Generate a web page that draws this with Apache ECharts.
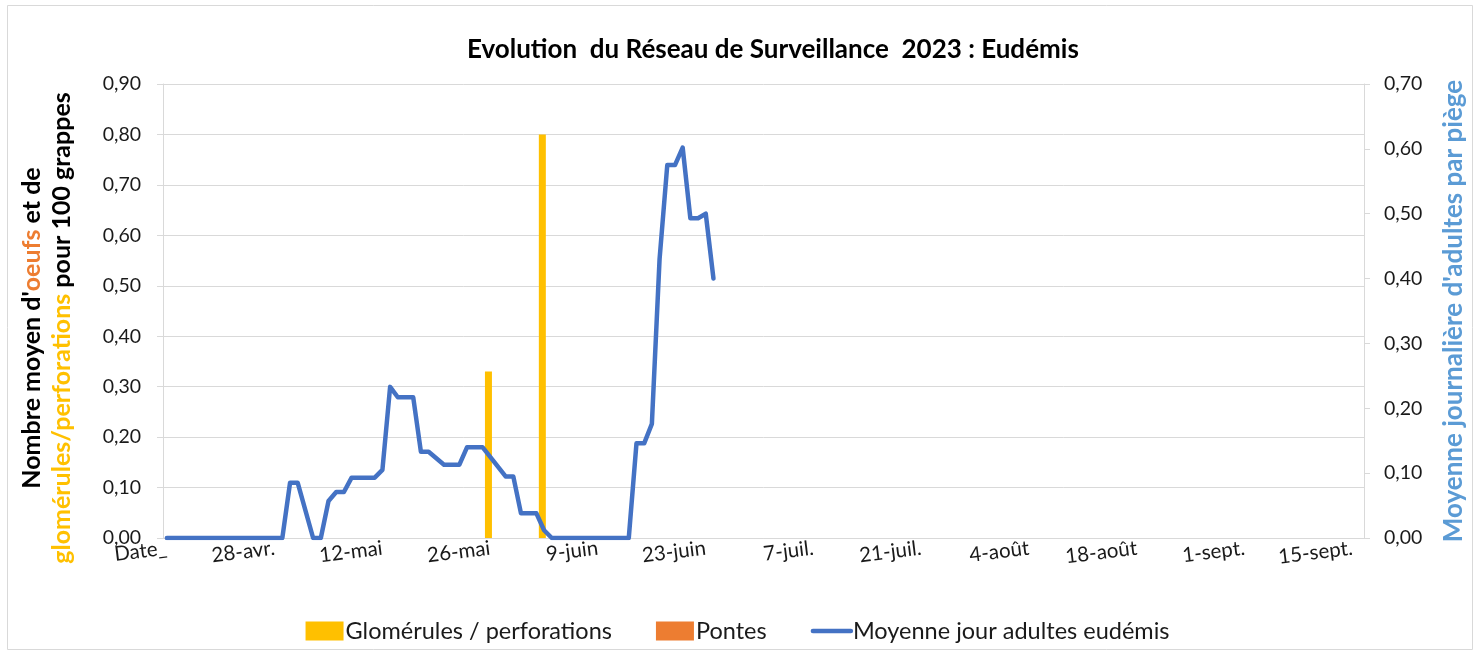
<!DOCTYPE html>
<html>
<head>
<meta charset="utf-8">
<script src="https://cdn.jsdelivr.net/npm/echarts@6/dist/echarts.min.js"></script>
<style>
html, body { margin: 0; padding: 0; background: #fff; }
#main { width: 1475px; height: 654px; }
</style>
</head>
<body>
<div id="main"></div>
<script>
// axe des dates : un jour par catégorie, la première porte l'entête "Date_"
var moisFr = ['janv.', 'févr.', 'mars', 'avr.', 'mai', 'juin', 'juil.', 'août', 'sept.', 'oct.', 'nov.', 'déc.'];
var nbJours = 156;
var jours = ['Date_'];
for (var i = 1; i < nbJours; i++) {
  var d = new Date(Date.UTC(2023, 3, 14 + i));
  jours.push(d.getUTCDate() + '-' + moisFr[d.getUTCMonth()]);
}

// glomérules / perforations (axe gauche)
var glomDates = ['26-mai', '2-juin'];
var glomValeurs = [0.33, 0.80];

// pontes (axe gauche) : aucune valeur
var pontesDates = [];
var pontesValeurs = [];

// moyenne jour adultes eudémis (axe droit)
var adultesDates = ['Date_', '29-avr.', '30-avr.', '1-mai', '3-mai', '4-mai', '5-mai', '6-mai', '7-mai', '8-mai',
  '11-mai', '12-mai', '13-mai', '14-mai', '16-mai', '17-mai', '18-mai', '20-mai', '22-mai', '23-mai',
  '25-mai', '28-mai', '29-mai', '30-mai', '1-juin', '2-juin', '3-juin', '13-juin', '14-juin', '15-juin',
  '16-juin', '17-juin', '18-juin', '19-juin', '20-juin', '21-juin', '22-juin', '23-juin', '24-juin'];
var adultesValeurs = [0, 0, 0.085, 0.085, 0, 0, 0.057, 0.071, 0.071, 0.093,
  0.093, 0.105, 0.233, 0.217, 0.217, 0.133, 0.133, 0.113, 0.113, 0.14,
  0.14, 0.095, 0.095, 0.038, 0.038, 0.012, 0, 0, 0.146, 0.146,
  0.176, 0.43, 0.575, 0.575, 0.602, 0.493, 0.493, 0.50, 0.40];

function paires(dates, valeurs) {
  return dates.map(function (d, k) { return [d, valeurs[k]]; });
}
function virgule(v) {
  return v.toFixed(2).replace('.', ',');
}

var police = 'Lato, "Open Sans", sans-serif';
var myChart = echarts.init(document.getElementById('main'));

var options = {
  backgroundColor: '#fff',
  textStyle: { fontFamily: police },
  title: {
    text: 'Evolution  du Réseau de Surveillance  2023 : Eudémis',
    left: 462,
    top: 32,
    textStyle: { fontSize: 26, fontWeight: 'bold', color: '#000', fontFamily: police }
  },
  legend: {
    top: 614,
    left: 'center',
    itemWidth: 38,
    itemHeight: 19,
    itemGap: 44,
    textStyle: { fontSize: 23.5, color: '#1a1a1a', fontFamily: police, padding: [0, 0, 0, -3] },
    data: [
      { name: 'Glomérules / perforations', icon: 'rect' },
      { name: 'Pontes', icon: 'rect' },
      { name: 'Moyenne jour adultes eudémis', itemStyle: { opacity: 0 }, lineStyle: { width: 4.5, color: '#4472c4', cap: 'round' } }
    ]
  },
  grid: { left: 163, right: 103, top: 84, bottom: 116 },
  xAxis: {
    type: 'category',
    data: jours,
    boundaryGap: true,
    axisLine: { lineStyle: { color: '#d9d9d9', width: 1 } },
    axisTick: { interval: 13, length: 6, lineStyle: { color: '#d9d9d9' } },
    axisLabel: { interval: 13, rotate: 7, margin: 10, fontSize: 20.5, color: '#1a1a1a', fontFamily: police }
  },
  yAxis: [
    {
      type: 'value',
      min: 0,
      max: 0.9,
      interval: 0.1,
      name: "{k|Nombre moyen d'}{o|oeufs}{k| et de}\n{y|glomérules/perforations}{k| pour 100 grappes}",
      nameLocation: 'middle',
      nameRotate: 90,
      nameGap: 86,
      nameTextStyle: {
        fontSize: 25,
        fontWeight: 'bold',
        lineHeight: 30,
        padding: [0, 34, 0, 0],
        rich: {
          k: { color: '#000', fontSize: 25, fontWeight: 'bold', fontFamily: police, lineHeight: 30 },
          o: { color: '#ed7d31', fontSize: 25, fontWeight: 'bold', fontFamily: police, lineHeight: 30 },
          y: { color: '#ffc000', fontSize: 25, fontWeight: 'bold', fontFamily: police, lineHeight: 30 }
        }
      },
      axisLine: { show: true, lineStyle: { color: '#d9d9d9' } },
      axisTick: { show: true, length: 6, lineStyle: { color: '#d9d9d9' } },
      axisLabel: { margin: 22, fontSize: 19.5, color: '#1a1a1a', fontFamily: police, formatter: virgule },
      splitLine: { lineStyle: { color: '#d9d9d9' } }
    },
    {
      type: 'value',
      min: 0,
      max: 0.7,
      interval: 0.1,
      position: 'right',
      name: "Moyenne journalière d'adultes par piège",
      nameLocation: 'middle',
      nameRotate: 90,
      nameGap: 77,
      nameTextStyle: { fontSize: 26, fontWeight: 'bold', color: '#5b9bd5', fontFamily: police },
      axisLine: { show: true, lineStyle: { color: '#d9d9d9' } },
      axisTick: { show: true, length: 6, lineStyle: { color: '#d9d9d9' } },
      axisLabel: { margin: 20, fontSize: 19.5, color: '#1a1a1a', fontFamily: police, formatter: virgule },
      splitLine: { show: false }
    }
  ],
  series: [
    {
      name: 'Glomérules / perforations',
      type: 'bar',
      yAxisIndex: 0,
      barWidth: 7,
      barGap: '-50%',
      itemStyle: { color: '#ffc000' },
      data: paires(glomDates, glomValeurs)
    },
    {
      name: 'Pontes',
      type: 'bar',
      yAxisIndex: 0,
      barWidth: 7,
      itemStyle: { color: '#ed7d31' },
      data: paires(pontesDates, pontesValeurs)
    },
    {
      name: 'Moyenne jour adultes eudémis',
      type: 'line',
      yAxisIndex: 1,
      symbol: 'none',
      lineStyle: { color: '#4472c4', width: 4.5, join: 'round', cap: 'round' },
      itemStyle: { color: '#4472c4' },
      data: paires(adultesDates, adultesValeurs)
    }
  ],
  graphic: [
    {
      type: 'rect',
      silent: true,
      shape: { x: 7.5, y: 5.5, width: 1465, height: 644 },
      style: { fill: 'none', stroke: '#d9d9d9', lineWidth: 1 }
    }
  ]
};

myChart.setOption(options);
</script>
</body>
</html>
